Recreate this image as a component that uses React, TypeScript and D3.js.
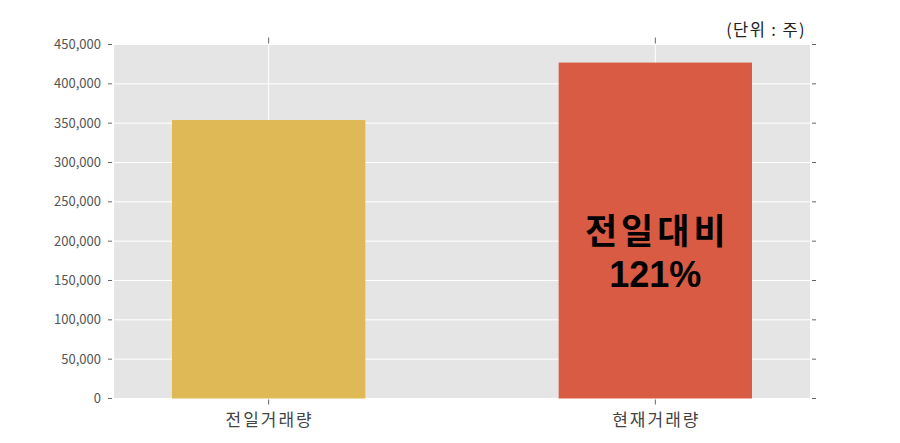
import React from "react";
import * as d3 from "d3";

const categories = ["전일거래량", "현재거래량"];
const values = [354000, 427000];
const barColors = ["#E0B957", "#D95B43"];
const yTicks = [0, 50000, 100000, 150000, 200000, 250000, 300000, 350000, 400000, 450000];
const unitLabel = "(단위 : 주)";
const ratioLines = ["전일대비", "121%"];

const W = 900;
const H = 443;
const M = { left: 114, right: 90, top: 44.5, bottom: 44.5 };

export default function App() {
  const x = d3
    .scaleBand<string>()
    .domain(categories)
    .range([M.left, W - M.right])
    .paddingInner(0.5)
    .paddingOuter(0.15);
  const y = d3.scaleLinear().domain([0, 450000]).range([H - M.bottom, M.top]);
  const fmt = d3.format(",");
  const font = "'Noto Sans CJK KR', 'Noto Sans', sans-serif";
  const x0 = M.left;
  const x1 = W - M.right;
  const centers = categories.map((c) => (x(c) as number) + x.bandwidth() / 2);

  return (
    <svg
      width={W}
      height={H}
      style={{ position: "absolute", left: 0, top: 0, display: "block" }}
      fontFamily={font}
    >
      <rect x={x0} y={M.top} width={x1 - x0} height={y(0) - M.top} fill="#E5E5E5" />
      {yTicks.map((t) => (
        <g key={t}>
          <line x1={x0} x2={x1} y1={y(t)} y2={y(t)} stroke="#fff" strokeWidth={1} />
          <line x1={x0 - 6} x2={x0 - 2} y1={y(t)} y2={y(t)} stroke="#666" strokeWidth={1} />
          <line x1={x1 + 2} x2={x1 + 6} y1={y(t)} y2={y(t)} stroke="#666" strokeWidth={1} />
          <text x={x0 - 13} y={y(t)} dy="0.35em" textAnchor="end" fontSize={13} fill="#555">
            {fmt(t)}
          </text>
        </g>
      ))}
      {centers.map((cx, i) => (
        <g key={i}>
          <line x1={cx} x2={cx} y1={M.top} y2={y(0)} stroke="#fff" strokeWidth={1} />
          <line x1={cx} x2={cx} y1={M.top - 7} y2={M.top - 1} stroke="#666" strokeWidth={1} />
          <line x1={cx} x2={cx} y1={y(0) + 1} y2={y(0) + 6} stroke="#666" strokeWidth={1} />
        </g>
      ))}
      {categories.map((c, i) => (
        <rect
          key={c}
          x={x(c)}
          y={y(values[i])}
          width={x.bandwidth()}
          height={y(0) - y(values[i])}
          fill={barColors[i]}
        />
      ))}
      {categories.map((c, i) => (
        <text
          key={c}
          x={centers[i] + 1}
          y={426}
          textAnchor="middle"
          fontSize={17}
          letterSpacing={2}
          fill="#444"
        >
          {c}
        </text>
      ))}
      <text x={806} y={36} textAnchor="end" fontSize={16.5} letterSpacing={1.4} fill="#222">
        {unitLabel}
      </text>
      <text
        x={centers[1] + 2}
        y={244}
        textAnchor="middle"
        fontSize={35}
        fontWeight="bold"
        letterSpacing={4}
        fill="#000"
      >
        {ratioLines[0]}
      </text>
      <text
        x={centers[1]}
        y={287}
        textAnchor="middle"
        fontSize={36}
        fontWeight="bold"
        fontFamily="'Liberation Sans', Arial, sans-serif"
        fill="#000"
      >
        {ratioLines[1]}
      </text>
    </svg>
  );
}
